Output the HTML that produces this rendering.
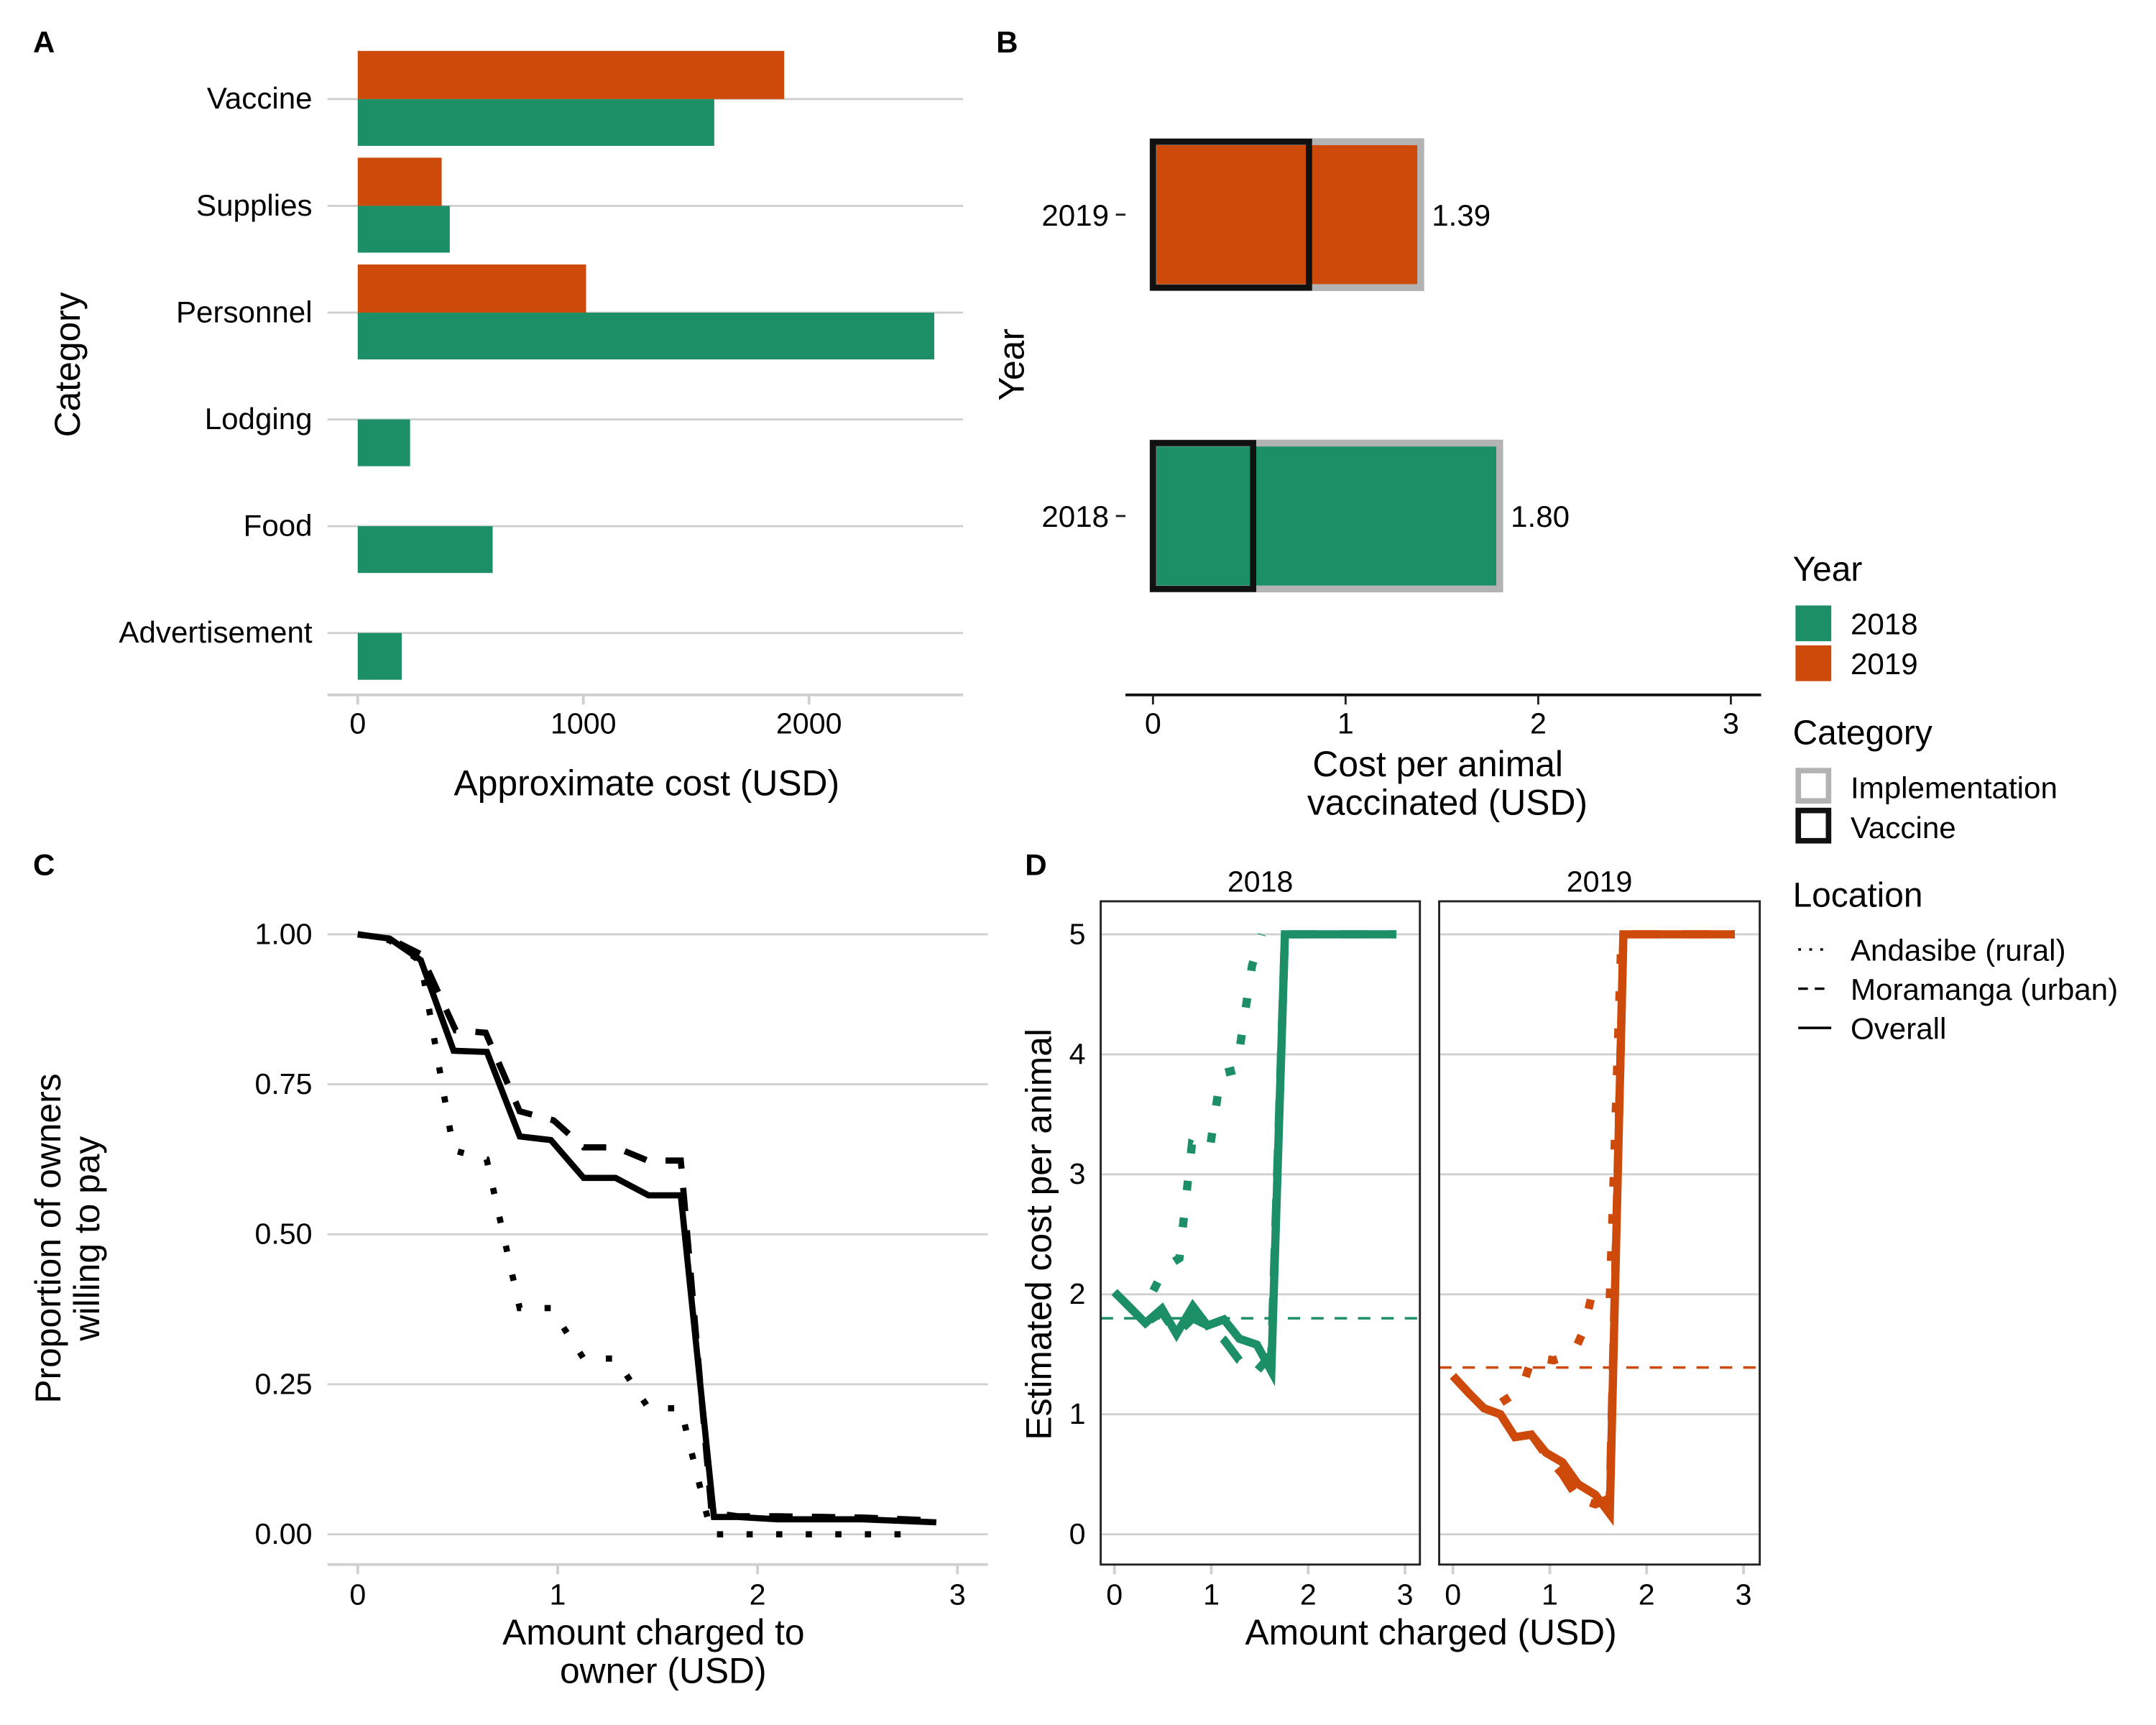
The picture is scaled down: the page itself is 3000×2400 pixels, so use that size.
<!DOCTYPE html>
<html><head><meta charset="utf-8"><style>
html,body{margin:0;padding:0;background:#fff;}
svg{display:block;font-family:"Liberation Sans",Arial,sans-serif;}
</style></head><body>
<svg id="fig" width="3000" height="2400" viewBox="0 0 1567 1253.6" xmlns="http://www.w3.org/2000/svg">
<rect width="1600" height="1300" fill="#fff"/>
<g id="gA"></g>
<g id="gB"></g>
<g id="gC"></g>
<g id="gD"></g>
<g id="gL"></g>
</svg>
<script>
// ---- Panel A data ----
const catsA = ["Vaccine","Supplies","Personnel","Lodging","Food","Advertisement"];
const cost2019 = [1890, 372, 1012, 0, 0, 0];
const cost2018 = [1580, 408, 2555, 232, 598, 195];
const ticksA = [0, 1000, 2000];
// ---- Panel B data ----
const yearsB = ["2019","2018"];
const totalB = [1.39, 1.80];
const vaccineB = [0.81, 0.52];
const labelsB = ["1.39","1.80"];
const ticksB = [0,1,2,3];
// ---- Panel C data ----
const xOverall = [0,0.16,0.315,0.48,0.646,0.811,0.966,1.13,1.29,1.455,1.616,1.782,1.90,2.10,2.52,2.894];
const yOverall = [1,0.993,0.957,0.806,0.804,0.663,0.657,0.594,0.594,0.565,0.565,0.029,0.029,0.025,0.025,0.020];
const xUrban = [0,0.16,0.315,0.49,0.64,0.81,0.98,1.13,1.29,1.45,1.616,1.77,1.90,2.10,2.52,2.894];
const yUrban = [1,0.993,0.967,0.84,0.836,0.705,0.69,0.645,0.645,0.623,0.623,0.036,0.03,0.03,0.028,0.023];
const xRural = [0,0.16,0.315,0.48,0.645,0.81,0.966,1.13,1.29,1.455,1.616,1.77,2.0,2.83];
const yRural = [1,0.99,0.955,0.64,0.625,0.377,0.377,0.293,0.293,0.21,0.21,0.0,0,0];
const ticksCx = [0,1,2,3];
const ticksCy = [0,0.25,0.5,0.75,1];
const ticksCyLab = ["0.00","0.25","0.50","0.75","1.00"];
// ---- Panel D data ----
const xD = [0,0.16,0.32,0.49,0.64,0.81,0.96,1.13,1.29,1.47,1.62,1.76,2.91];
const d18Overall = [2.02,1.89,1.76,1.88,1.67,1.90,1.74,1.79,1.63,1.58,1.36,5,5];
const d18Urban = [2.02,1.89,1.76,1.85,1.67,1.80,1.74,1.62,1.45,1.36,1.5,5,5];
const xD18Rural = [0.40,0.53,0.67,0.80,0.98,1.10,1.26,1.42,1.52];
const d18Rural = [2.03,2.23,2.30,3.25,3.19,3.84,3.87,4.74,5];
const d19Overall = [1.32,1.18,1.05,1.0,0.81,0.83,0.68,0.60,0.42,0.33,0.17,5,5];
const d19Urban = [1.32,1.18,1.05,1.0,0.81,0.83,0.66,0.50,0.30,0.25,0.30,5,5];
const xD19Rural = [0.5,0.71,0.82,1.04,1.24,1.35,1.44,1.62,1.74];
const d19Rural = [1.1,1.21,1.48,1.45,1.50,1.70,2.02,1.96,5];
const refLine = [1.80, 1.39];
const ticksDx = [0,1,2,3];
const ticksDy = [0,1,2,3,4,5];

const NS="http://www.w3.org/2000/svg";
const GREEN="#1d8f67", ORANGE="#cd4a0b", GRID="#d0d0d0";
const FT=21.5, FL=22, FTI=26, FLG=22, FLT=25;
function mk(parent,tag,attrs,txt){const e=document.createElementNS(NS,tag);for(const k in attrs)e.setAttribute(k,attrs[k]);if(txt!==undefined)e.textContent=txt;parent.appendChild(e);return e;}

// ===== Panel A =====
const A=document.getElementById('gA');
const ax=v=>260+v*0.164;
const ay=i=>72+i*77.6;
let t=mk(A,'text',{x:24,y:38,'font-size':22,'font-weight':'bold'},'A');


catsA.forEach((c,i)=>{
  let g=mk(A,'line',{x1:238,x2:700,y1:ay(i),y2:ay(i),stroke:GRID,'stroke-width':1.5});
  
  
  let l=mk(A,'text',{x:227,y:ay(i)+7,'font-size':FL,'text-anchor':'end'},c);
  
  
  if(cost2019[i]>0){let r=mk(A,'rect',{x:ax(0),y:ay(i)-35,width:ax(cost2019[i])-ax(0),height:35,fill:ORANGE});
    
    }
  let r2=mk(A,'rect',{x:ax(0),y:ay(i),width:ax(cost2018[i])-ax(0),height:34,fill:GREEN});
  
  
});
let axA=mk(A,'line',{x1:238,x2:700,y1:505,y2:505,stroke:GRID,'stroke-width':2});


ticksA.forEach(v=>{
  let tk=mk(A,'line',{x1:ax(v),x2:ax(v),y1:505,y2:512,stroke:GRID,'stroke-width':2});
  
  
  let tl=mk(A,'text',{x:ax(v),y:533,'font-size':FT,'text-anchor':'middle'},String(v));
  
  
});
t=mk(A,'text',{x:470,y:578,'font-size':FTI,'text-anchor':'middle'},'Approximate cost (USD)');


t=mk(A,'text',{x:0,y:0,'font-size':FTI,'text-anchor':'middle',transform:'translate(58,265) rotate(-90)'},'Category');



// ===== Panel B =====
const B=document.getElementById('gB');
const bx=v=>838+v*140;
const byc=[156,375];
t=mk(B,'text',{x:724,y:38,'font-size':22,'font-weight':'bold'},'B');


yearsB.forEach((yr,i)=>{
  const col=i===0?ORANGE:GREEN;
  let r=mk(B,'rect',{x:bx(0),y:byc[i]-53,width:bx(totalB[i])-bx(0),height:106,fill:col,stroke:'#b3b3b3','stroke-width':5});
  
  
  let v=mk(B,'rect',{x:bx(0),y:byc[i]-53,width:bx(vaccineB[i])-bx(0),height:106,fill:'none',stroke:'#111','stroke-width':4.5});
  
  
  let l=mk(B,'text',{x:bx(totalB[i])+8,y:byc[i]+8,'font-size':FL},labelsB[i]);
  
  
  let y=mk(B,'text',{x:806,y:byc[i]+8,'font-size':FL,'text-anchor':'end'},yr);
  
  
  let tk=mk(B,'line',{x1:811,x2:818,y1:byc[i],y2:byc[i],stroke:'#222','stroke-width':1.5});
  
  
});
let axB=mk(B,'line',{x1:818,x2:1280,y1:505,y2:505,stroke:'#111','stroke-width':2});


ticksB.forEach(v=>{
  let tk=mk(B,'line',{x1:bx(v),x2:bx(v),y1:505,y2:512,stroke:'#222','stroke-width':1.5});
  
  
  let tl=mk(B,'text',{x:bx(v),y:533,'font-size':FT,'text-anchor':'middle'},String(v));
  
  
});
t=mk(B,'text',{x:1045,y:564,'font-size':FTI,'text-anchor':'middle'},'Cost per animal');


t=mk(B,'text',{x:1052,y:592,'font-size':FTI,'text-anchor':'middle'},'vaccinated (USD)');


t=mk(B,'text',{x:0,y:0,'font-size':FTI,'text-anchor':'middle',transform:'translate(744,265) rotate(-90)'},'Year');



// ===== Panel C =====
const C=document.getElementById('gC');
const cx=v=>260+v*145.3;
const cy=v=>1115-v*436;
t=mk(C,'text',{x:24,y:636,'font-size':22,'font-weight':'bold'},'C');


ticksCy.forEach((v,i)=>{
  let g=mk(C,'line',{x1:238,x2:718,y1:cy(v),y2:cy(v),stroke:GRID,'stroke-width':1.5});
  
  
  let l=mk(C,'text',{x:227,y:cy(v)+7,'font-size':FT,'text-anchor':'end'},ticksCyLab[i]);
  
  
});
let axC=mk(C,'line',{x1:238,x2:718,y1:1137,y2:1137,stroke:GRID,'stroke-width':2});


ticksCx.forEach(v=>{
  let tk=mk(C,'line',{x1:cx(v),x2:cx(v),y1:1137,y2:1144,stroke:GRID,'stroke-width':2});
  
  
  let tl=mk(C,'text',{x:cx(v),y:1166,'font-size':FT,'text-anchor':'middle'},String(v));
  
  
});
function pts(xs,ys,fx,fy){return xs.map((x,i)=>fx(x).toFixed(1)+','+fy(ys[i]).toFixed(1)).join(' ');}
let p=mk(C,'polyline',{points:pts(xRural,yRural,cx,cy),fill:'none',stroke:'#000','stroke-width':4.5,'stroke-dasharray':'4.5 17'});


p=mk(C,'polyline',{points:pts(xUrban,yUrban,cx,cy),fill:'none',stroke:'#000','stroke-width':4.5,'stroke-dasharray':'17 14'});


p=mk(C,'polyline',{points:pts(xOverall,yOverall,cx,cy),fill:'none',stroke:'#000','stroke-width':4.5});


t=mk(C,'text',{x:475,y:1195,'font-size':FTI,'text-anchor':'middle'},'Amount charged to');


t=mk(C,'text',{x:482,y:1223,'font-size':FTI,'text-anchor':'middle'},'owner (USD)');


t=mk(C,'text',{x:0,y:0,'font-size':FTI,'text-anchor':'middle',transform:'translate(44,900) rotate(-90)'},'Proportion of owners');


t=mk(C,'text',{x:0,y:0,'font-size':FTI,'text-anchor':'middle',transform:'translate(72,900) rotate(-90)'},'willing to pay');



// ===== Panel D =====
const D=document.getElementById('gD');
const dy=v=>1115-v*87.2;
t=mk(D,'text',{x:745,y:636,'font-size':22,'font-weight':'bold'},'D');


const facets=[
 {yr:'2018',x0:800,x1:1032,zero:810,col:GREEN,ov:d18Overall,ur:d18Urban,rx:xD18Rural,ry:d18Rural,ref:refLine[0]},
 {yr:'2019',x0:1046,x1:1279,zero:1056,col:ORANGE,ov:d19Overall,ur:d19Urban,rx:xD19Rural,ry:d19Rural,ref:refLine[1]}
];
facets.forEach((f,fi)=>{
  const fx=v=>f.zero+v*70.4;
  const g=mk(D,'g',{});
  
  
  let s=mk(g,'text',{x:(f.x0+f.x1)/2,y:648,'font-size':FT,'text-anchor':'middle'},f.yr);
  
  
  ticksDy.forEach(v=>{
    let gl=mk(g,'line',{x1:f.x0,x2:f.x1,y1:dy(v),y2:dy(v),stroke:GRID,'stroke-width':1.5});
    
    
  });
  ticksDx.forEach(v=>{
    let tk=mk(g,'line',{x1:fx(v),x2:fx(v),y1:1137,y2:1144,stroke:GRID,'stroke-width':2});
    
    
    let tl=mk(g,'text',{x:fx(v),y:1166,'font-size':FT,'text-anchor':'middle'},String(v));
    
    
  });
  let rl=mk(g,'line',{x1:f.x0,x2:f.x1,y1:dy(f.ref),y2:dy(f.ref),stroke:f.col,'stroke-width':1.8,'stroke-dasharray':'9 8'});
  
  
  let a=mk(g,'polyline',{points:pts(f.rx,f.ry,fx,dy),fill:'none',stroke:f.col,'stroke-width':6,'stroke-dasharray':'7 20'});
  
  
  let u=mk(g,'polyline',{points:pts(xD,f.ur,fx,dy),fill:'none',stroke:f.col,'stroke-width':6,'stroke-dasharray':'20 16'});
  
  
  let o=mk(g,'polyline',{points:pts(xD,f.ov,fx,dy),fill:'none',stroke:f.col,'stroke-width':6});
  
  
  let bx2=mk(g,'rect',{x:f.x0,y:655,width:f.x1-f.x0,height:482,fill:'none',stroke:'#222','stroke-width':1.5});
  
  
});
ticksDy.forEach(v=>{
  let l=mk(D,'text',{x:789,y:dy(v)+7,'font-size':FT,'text-anchor':'end'},String(v));
  
  
});
t=mk(D,'text',{x:1040,y:1195,'font-size':FTI,'text-anchor':'middle'},'Amount charged (USD)');


t=mk(D,'text',{x:0,y:0,'font-size':FTI,'text-anchor':'middle',transform:'translate(764,897) rotate(-90)'},'Estimated cost per animal');



// ===== Legend =====
const L=document.getElementById('gL');
function txt(x,y,s,size,name){let e=mk(L,'text',{x:x,y:y,'font-size':size},s);return e;}
txt(1303,422,'Year',FLT,'legend-title-year');
let sw=mk(L,'rect',{x:1305,y:440,width:26,height:26,fill:GREEN});


txt(1345,461,'2018',FLG,'legend-label-2018');
sw=mk(L,'rect',{x:1305,y:469,width:26,height:26,fill:ORANGE});


txt(1345,490,'2019',FLG,'legend-label-2019');
txt(1303,541,'Category',FLT,'legend-title-category');
sw=mk(L,'rect',{x:1307,y:560,width:22,height:22,fill:'#fff',stroke:'#b3b3b3','stroke-width':4});


txt(1345,580,'Implementation',FLG,'legend-label-implementation');
sw=mk(L,'rect',{x:1307,y:589,width:22,height:22,fill:'#fff',stroke:'#111','stroke-width':4});


txt(1345,609,'Vaccine',FLG,'legend-label-vaccine');
txt(1303,659,'Location',FLT,'legend-title-location');
const locs=[['Andasibe (rural)','2 6'],['Moramanga (urban)','7 5'],['Overall','']];
locs.forEach((l,i)=>{
  const y=690+i*28.5;
  const a={x1:1307,x2:1331,y1:y,y2:y,stroke:'#000','stroke-width':1.8};
  if(l[1])a['stroke-dasharray']=l[1];
  let ln=mk(L,'line',a);
  
  
  txt(1345,y+8,l[0],FLG,'legend-label-'+l[0].split(' ')[0].toLowerCase());
});
</script>
</body></html>
